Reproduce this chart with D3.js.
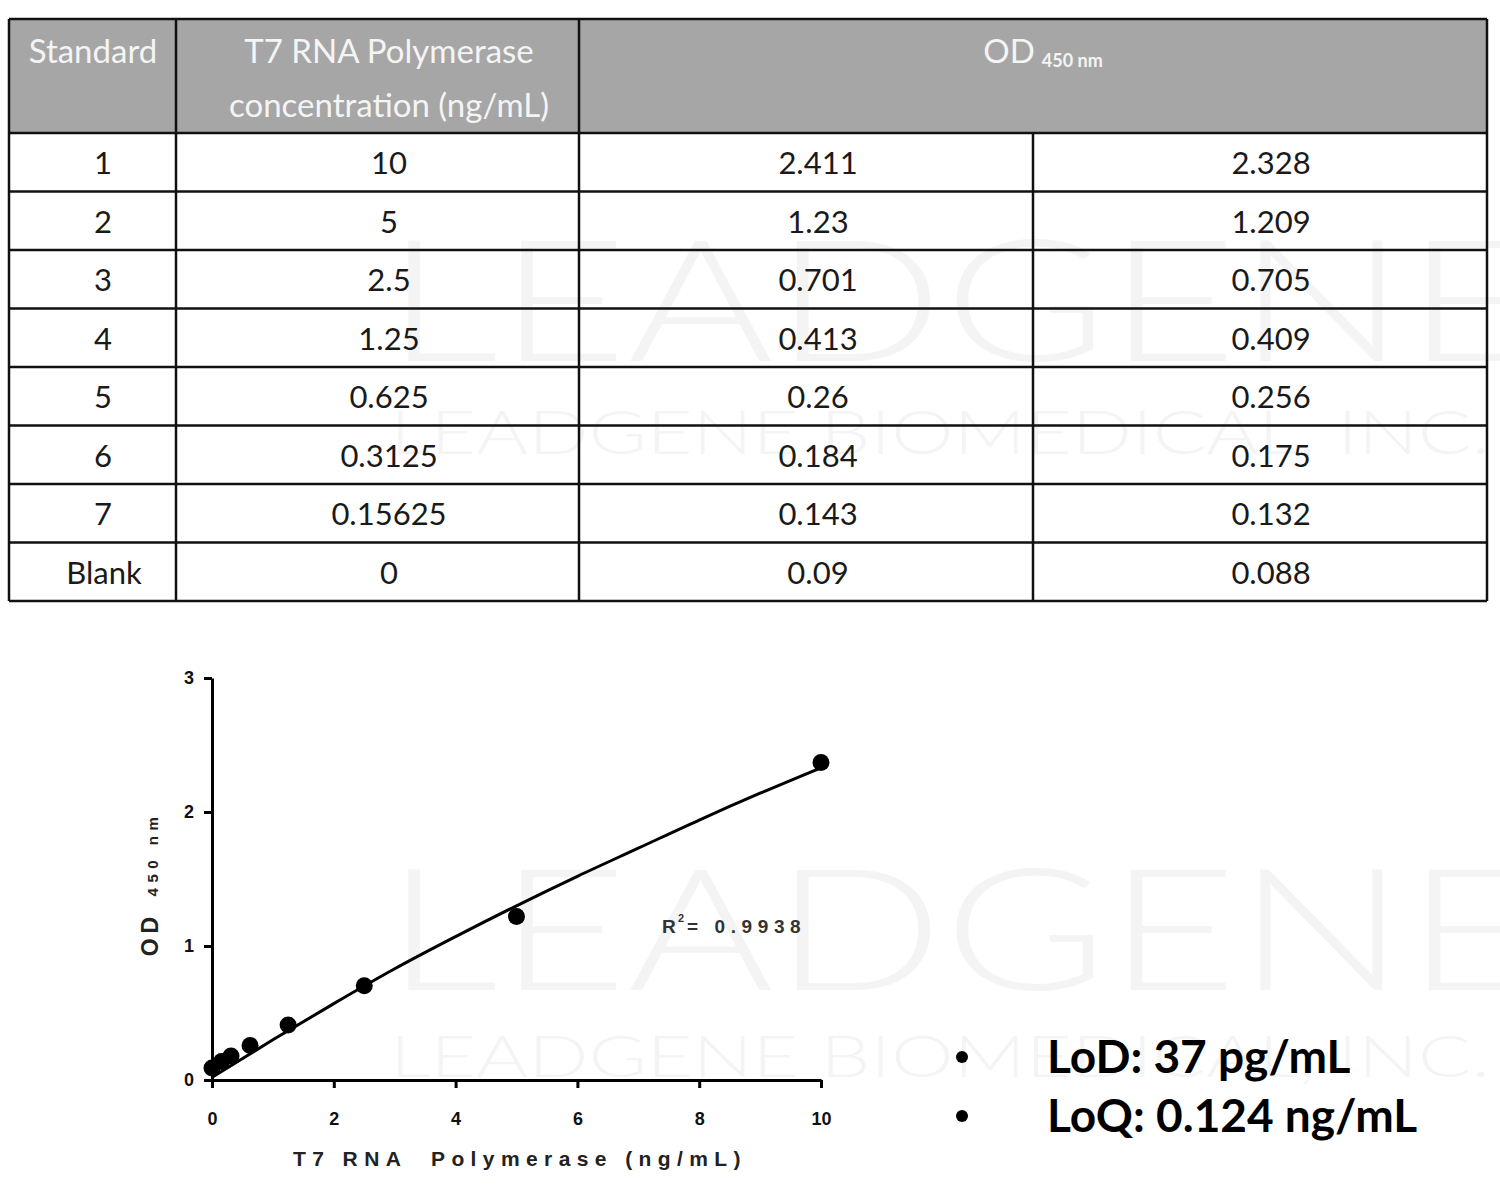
<!DOCTYPE html>
<html><head><meta charset="utf-8">
<script src="https://cdn.jsdelivr.net/npm/d3@7"></script>
<style>body{margin:0;background:#fff} svg{display:block}</style>
</head><body><svg id="c" width="1500" height="1191"></svg>
<script>
// ---- data ----
const standards = ["1","2","3","4","5","6","7","Blank"];
const concentrations = [10,5,2.5,1.25,0.625,0.3125,0.15625,0];
const od1 = [2.411,1.23,0.701,0.413,0.26,0.184,0.143,0.09];
const od2 = [2.328,1.209,0.705,0.409,0.256,0.175,0.132,0.088];
const fitX = [0,1,2,3,4,5,6,7,8,9,10];
const fitY = [0.02,0.30,0.57,0.83,1.07,1.30,1.52,1.73,1.94,2.14,2.33];
const xTicks = [0,2,4,6,8,10];
const yTicks = [0,1,2,3];
const rSquared = "0.9938";
const notes = ["LoD: 37 pg/mL","LoQ: 0.124 ng/mL"];

const svg = d3.select("#c");

// ---- watermark ----
const wm = svg.append("g").attr("fill","#f4f4f4").style("font-family","Lato, 'Open Sans', sans-serif").style("font-weight","300");
[[361,170],[990,170]].forEach(([yy,fs])=>{
  wm.append("text").attr("x",385).attr("y",yy).attr("font-size",fs).attr("textLength",1150).attr("lengthAdjust","spacingAndGlyphs").text("LEADGENE");
});
[[454,62],[1077,58]].forEach(([yy,fs])=>{
  wm.append("text").attr("x",390).attr("y",yy).attr("font-size",fs).attr("textLength",1100).attr("lengthAdjust","spacingAndGlyphs").text("LEADGENE BIOMEDICAL, INC.");
});

// ---- table ----
const tFont = "Lato, 'Open Sans', sans-serif";
const colX = [9,176,579,1033,1487];
const tTop = 19, headBottom = 133, tBottom = 601;
const rowY = d3.scaleBand().domain(standards).range([headBottom,tBottom]);
const tbl = svg.append("g");
tbl.append("rect").attr("x",colX[0]).attr("y",tTop).attr("width",colX[4]-colX[0]).attr("height",headBottom-tTop).attr("fill","#a6a6a6");

const hdr = tbl.append("g").attr("fill","#f4f4f4").style("font-family",tFont).attr("font-size",33).attr("text-anchor","middle");
hdr.append("text").attr("x",93).attr("y",63).text("Standard");
hdr.append("text").attr("x",389).attr("y",63).text("T7 RNA Polymerase");
hdr.append("text").attr("x",389).attr("y",117).text("concentration (ng/mL)");
const odh = hdr.append("text").attr("x",1043).attr("y",63);
odh.append("tspan").text("OD");
odh.append("tspan").attr("font-size",18).attr("font-weight","bold").attr("dx",7).attr("dy",4).text("450 nm");

const rowsData = standards.map((s,i)=>({s, c:concentrations[i], a:od1[i], b:od2[i]}));
const body = tbl.append("g").attr("fill","#1a1a1a").style("font-family",tFont).attr("font-size",31).attr("text-anchor","middle");
const rowG = body.selectAll("g").data(rowsData).join("g")
  .attr("transform",d=>`translate(0,${rowY(d.s)+rowY.bandwidth()/2+12})`);
rowG.append("text").attr("x",d=>d.s==="Blank"?104:103).text(d=>d.s);
rowG.append("text").attr("x",389).text(d=>String(d.c));
rowG.append("text").attr("x",818).text(d=>String(d.a));
rowG.append("text").attr("x",1271).text(d=>String(d.b));

const lines = tbl.append("g").attr("stroke","#111").attr("stroke-width",2.5);
[tTop, headBottom, ...standards.map(s=>rowY(s)+rowY.bandwidth())].forEach(yy=>{
  lines.append("line").attr("x1",colX[0]).attr("x2",colX[4]).attr("y1",yy).attr("y2",yy);
});
[colX[0],colX[1],colX[2],colX[4]].forEach(xx=>{
  lines.append("line").attr("x1",xx).attr("x2",xx).attr("y1",tTop).attr("y2",tBottom);
});
lines.append("line").attr("x1",colX[3]).attr("x2",colX[3]).attr("y1",headBottom).attr("y2",tBottom);

// ---- chart ----
const x = d3.scaleLinear().domain([0,10]).range([212,821]);
const y = d3.scaleLinear().domain([0,3]).range([1080,678]);
const cFont = "'Liberation Sans', Arial, sans-serif";

const gx = svg.append("g").attr("transform","translate(0,1080)")
  .call(d3.axisBottom(x).tickValues(xTicks).tickFormat(d3.format("d")).tickSize(8).tickPadding(24).tickSizeOuter(0));
const gy = svg.append("g").attr("transform","translate(212,0)")
  .call(d3.axisLeft(y).tickValues(yTicks).tickFormat(d3.format("d")).tickSize(8).tickPadding(10).tickSizeOuter(0));
[gx,gy].forEach(g=>{
  g.select(".domain").attr("stroke","#000").attr("stroke-width",3);
  g.selectAll(".tick line").attr("stroke","#000").attr("stroke-width",3);
  g.selectAll(".tick text").attr("fill","#111").style("font-family",cFont).attr("font-size",18).attr("font-weight","bold");
});

// fit curve
const fit = fitX.map((v,i)=>[v,fitY[i]]);
svg.append("path").datum(fit).attr("fill","none").attr("stroke","#000").attr("stroke-width",3)
  .attr("d",d3.line().x(d=>x(d[0])).y(d=>y(d[1])).curve(d3.curveMonotoneX));

// points (mean of duplicates)
svg.append("g").selectAll("circle").data(rowsData).join("circle")
  .attr("cx",d=>x(d.c)).attr("cy",d=>y((d.a+d.b)/2)).attr("r",8.5).attr("fill","#000");

// axis titles
svg.append("text").attr("x",520).attr("y",1166).attr("text-anchor","middle")
  .style("font-family",cFont).attr("font-size",21).attr("font-weight","bold").attr("fill","#222")
  .style("letter-spacing","6.4px").style("white-space","pre").text("T7 RNA  Polymerase (ng/mL)");
const yt = svg.append("text").attr("transform","translate(158,884) rotate(-90)").attr("text-anchor","middle")
  .style("font-family",cFont).attr("font-weight","bold").attr("fill","#222");
yt.append("tspan").attr("font-size",23).style("letter-spacing","5px").text("OD ");
yt.append("tspan").attr("font-size",15).style("letter-spacing","5.5px").attr("dx",4).text("450 nm");

// R squared
const rg = svg.append("g").style("font-family",cFont).attr("font-weight","bold").attr("fill","#333");
rg.append("text").attr("x",662).attr("y",933).attr("font-size",19).text("R");
rg.append("text").attr("x",678).attr("y",922).attr("font-size",11).text("2");
rg.append("text").attr("x",687).attr("y",933).attr("font-size",19).style("letter-spacing","5.6px").text("= " + rSquared);

// notes
const ng = svg.append("g");
notes.forEach((t,i)=>{
  const cy = 1057 + i*59;
  ng.append("circle").attr("cx",962).attr("cy",cy).attr("r",6).attr("fill","#000");
  ng.append("text").attr("x",1047).attr("y",cy+16).style("font-family","Lato, 'Open Sans', sans-serif")
    .attr("font-weight","bold").attr("font-size",46).attr("fill","#000").text(t);
});
</script></body></html>
